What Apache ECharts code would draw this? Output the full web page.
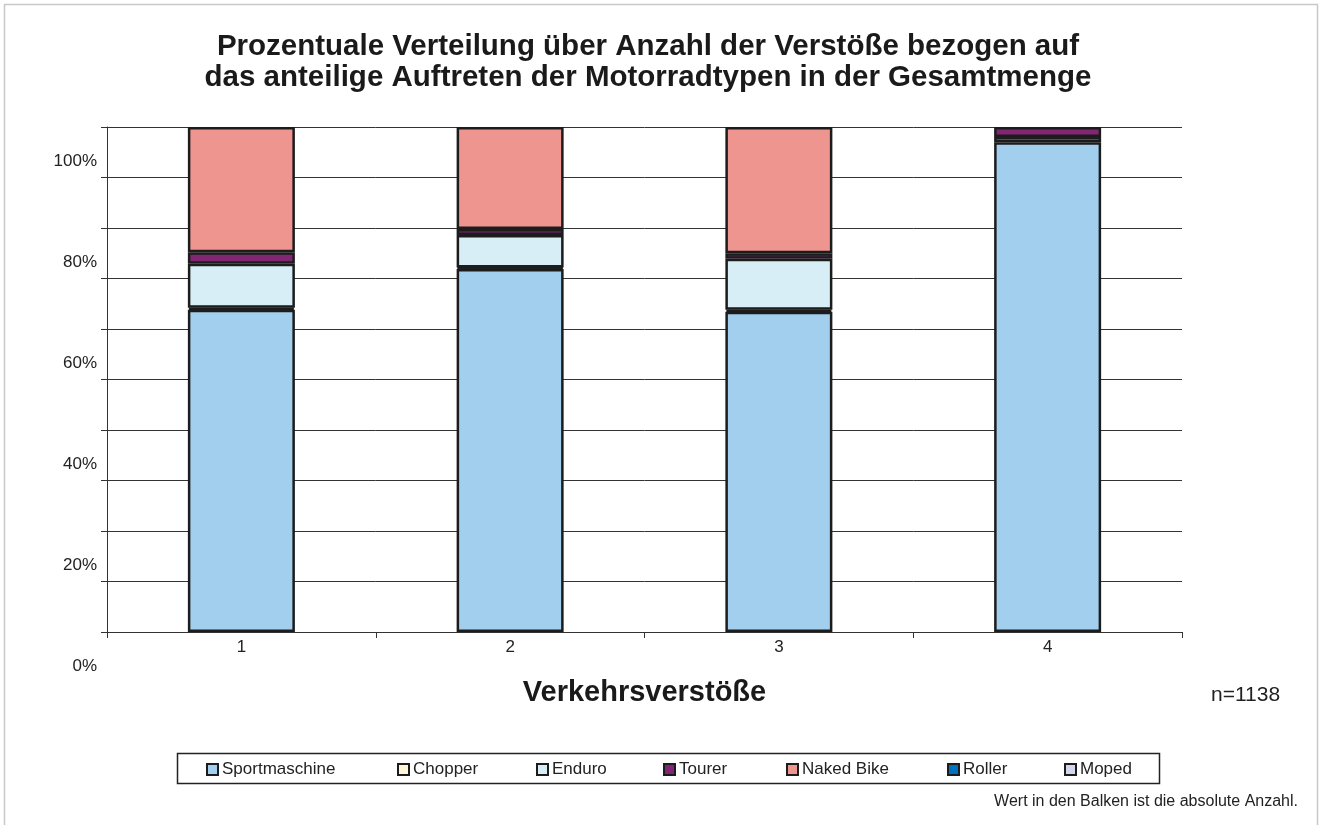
<!doctype html>
<html>
<head>
<meta charset="utf-8">
<title>Prozentuale Verteilung</title>
<script src="https://cdn.jsdelivr.net/npm/echarts@6/dist/echarts.min.js"></script>
<style>
html,body{margin:0;padding:0;background:#fff;}
#chart{width:1323px;height:825px;}
</style>
</head>
<body>
<div id="chart"></div>
<script type="text/javascript">
// Daten (Prozent je Verstoßanzahl)
var categories = ['1', '2', '3', '4'];
var sportmaschine = [63.8, 71.9, 63.4, 97.0];
var chopper = [0.4, 0.3, 0.4, 1.0];
var enduro = [8.7, 6.4, 10.1, 0];
var tourer = [2.3, 1.2, 1.1, 2.0];
var nakedBike = [24.8, 20.2, 25.0, 0];
var roller = [0, 0, 0, 0];
var moped = [0, 0, 0, 0];
var yTicks = [0, 20, 40, 60, 80, 100];

var names = ['Sportmaschine', 'Chopper', 'Enduro', 'Tourer', 'Naked Bike', 'Roller', 'Moped'];
var values = [sportmaschine, chopper, enduro, tourer, nakedBike, roller, moped];
var colors = ['#A3CFEE', '#FFF8D8', '#D7EEF7', '#822573', '#EE9590', '#0070C0', '#D3D6EC'];
// Legendenpositionen wie im Excel-Original (x des Symbols)
var legendX = [206, 397, 536, 663, 786, 947, 1064];
var FONT = 'Arial';

var series = names.map(function (n, i) {
	return {
		name: n,
		type: 'bar',
		stack: 'all',
		barWidth: 107,
		data: values[i].map(function (v) { return v === 0 ? '-' : v; }),
		itemStyle: {
			color: colors[i],
			borderColor: '#1c1c1c',
			borderWidth: 2.5
		}
	};
});

var legends = names.map(function (n, i) {
	return {
		data: [n],
		left: legendX[i],
		top: 761,
		padding: 0,
		itemWidth: 11,
		itemHeight: 11,
		icon: 'rect',
		textStyle: { fontSize: 17, color: '#222', fontFamily: FONT, padding: [0, 0, 0, -1] }
	};
});

var chart = echarts.init(document.getElementById('chart'));
var option = {
	backgroundColor: '#fff',
	animation: false,
	textStyle: { fontFamily: FONT },
	title: {
		text: 'Prozentuale Verteilung über Anzahl der Verstöße bezogen auf\ndas anteilige Auftreten der Motorradtypen in der Gesamtmenge',
		left: 643,
		textAlign: 'center',
		top: 26,
		textStyle: {
			fontSize: 29.5,
			fontWeight: 'bold',
			color: '#1a1a1a',
			lineHeight: 31,
			fontFamily: FONT
		}
	},
	grid: { left: 107, right: 141, top: 127, bottom: 193 },
	legend: legends,
	xAxis: {
		type: 'category',
		data: categories,
		name: 'Verkehrsverstöße',
		nameLocation: 'middle',
		nameGap: 46,
		nameTextStyle: { fontSize: 29, fontWeight: 'bold', color: '#1a1a1a', fontFamily: FONT },
		axisLine: { lineStyle: { color: '#333', width: 1 } },
		axisTick: { show: true, length: 6, lineStyle: { color: '#333' } },
		axisLabel: { fontSize: 17, color: '#222', margin: 7, fontFamily: FONT }
	},
	yAxis: {
		type: 'value',
		min: 0,
		max: 100,
		interval: 10,
		axisLine: { show: true, lineStyle: { color: '#333', width: 1 } },
		axisTick: { show: true, length: 6, lineStyle: { color: '#333' } },
		splitLine: { lineStyle: { color: '#333', width: 1 } },
		axisLabel: {
			fontSize: 17,
			color: '#222',
			margin: 10,
			lineHeight: 34,
			fontFamily: FONT,
			formatter: function (v) {
				// Excel setzt die Beschriftung eine halbe Gitterteilung tiefer
				return yTicks.indexOf(v) >= 0 ? '\n\n' + v + '%' : '';
			}
		}
	},
	graphic: [
		{
			type: 'rect',
			shape: { x: 4.5, y: 4.5, width: 1313, height: 830 },
			style: { fill: null, stroke: '#c8c8c8', lineWidth: 1.5 },
			silent: true
		},
		{
			type: 'rect',
			shape: { x: 177.5, y: 753.5, width: 982, height: 30 },
			style: { fill: null, stroke: '#222', lineWidth: 1.5 },
			silent: true
		},
		{
			type: 'text',
			left: 1211,
			top: 685,
			style: { text: 'n=1138', fontSize: 21, fill: '#222', fontFamily: FONT }
		},
		{
			type: 'text',
			right: 25,
			top: 794,
			style: { text: 'Wert in den Balken ist die absolute Anzahl.', fontSize: 16, fill: '#222', fontFamily: FONT }
		}
	],
	series: series
};
chart.setOption(option);
</script>
</body>
</html>
